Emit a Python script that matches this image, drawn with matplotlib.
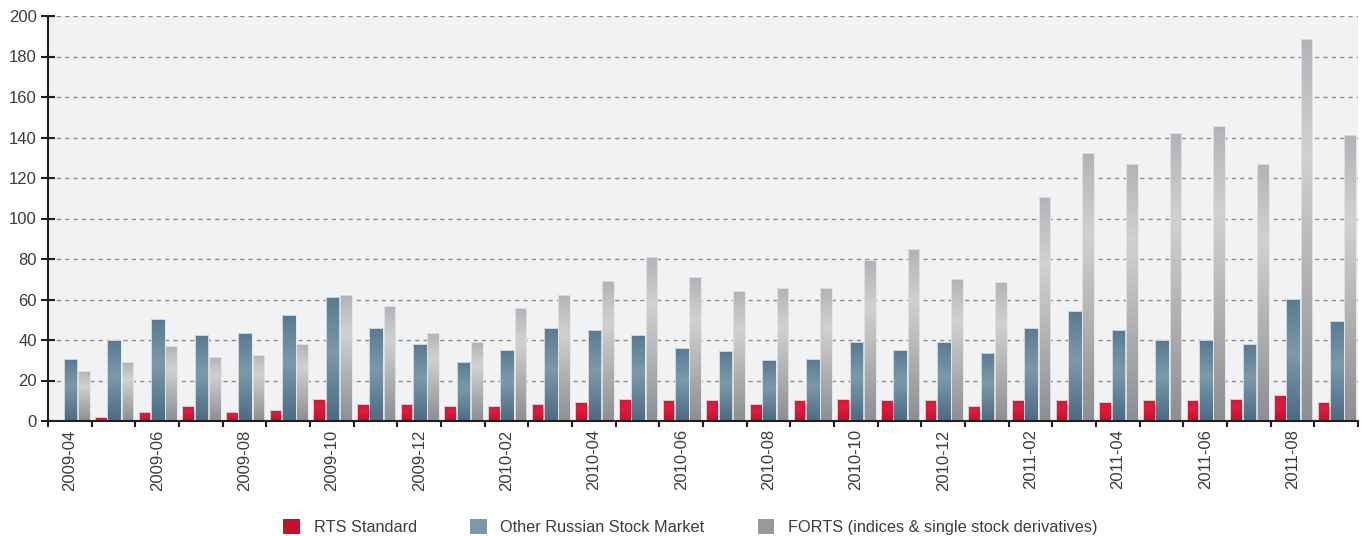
#!/usr/bin/env python3
"""RTS / Other Russian stock market / FORTS monthly volumes, 2009-04 .. 2011-09."""

import matplotlib

matplotlib.use("Agg")
import matplotlib.pyplot as plt
import numpy as np
from matplotlib.colors import LinearSegmentedColormap
from matplotlib.patches import Patch

months = [
    "2009-04", "2009-05", "2009-06", "2009-07", "2009-08", "2009-09",
    "2009-10", "2009-11", "2009-12", "2010-01", "2010-02", "2010-03",
    "2010-04", "2010-05", "2010-06", "2010-07", "2010-08", "2010-09",
    "2010-10", "2010-11", "2010-12", "2011-01", "2011-02", "2011-03",
    "2011-04", "2011-05", "2011-06", "2011-07", "2011-08", "2011-09",
]

rts_standard = [
    0.7, 2.0, 4.6, 7.4, 4.6, 5.6, 11.0, 8.2, 8.2, 7.4,
    7.4, 8.2, 9.2, 11.0, 10.2, 10.2, 8.2, 10.2, 11.0, 10.2,
    10.2, 7.4, 10.2, 10.2, 9.2, 10.2, 10.2, 11.0, 12.8, 9.2,
]
other_russian = [
    30.8, 39.9, 50.6, 42.5, 43.5, 52.3, 61.2, 46.1, 38.0, 29.0,
    35.3, 46.1, 45.1, 42.5, 36.2, 34.4, 30.0, 30.8, 38.9, 35.3,
    38.9, 33.7, 46.1, 54.2, 45.1, 39.9, 39.9, 38.0, 60.4, 49.6,
]
forts = [
    24.5, 29.0, 37.0, 31.8, 32.6, 38.0, 62.2, 57.0, 43.5, 38.9,
    56.0, 62.2, 69.3, 81.2, 71.1, 64.0, 65.9, 65.9, 79.4, 84.8,
    70.3, 68.5, 110.6, 132.2, 127.0, 142.1, 145.7, 127.0, 188.8, 141.3,
]

series_labels = ["RTS Standard", "Other Russian Stock Market",
                 "FORTS (indices & single stock derivatives)"]

# градиенты столбиков: низ -> середина -> верх
GRADIENTS = [
    [(0.0, "#c50f2d"), (0.6, "#e21a3b"), (1.0, "#d3173a")],
    [(0.0, "#4b6b84"), (0.55, "#7c99a9"), (1.0, "#587a91")],
    [(0.0, "#8d8e91"), (0.7, "#d1d1d3"), (1.0, "#b2b3b6")],
]
LEGEND_COLORS = ["#c8102e", "#7c99a9", "#98999c"]
OFFSETS = [-0.29, 0.015, 0.32]
WIDTHS = [0.27, 0.32, 0.27]

plt.rcParams["font.family"] = ["Liberation Sans", "DejaVu Sans"]
TEXT = "#3c3c3c"
AXIS = "#231f20"

fig = plt.figure(figsize=(13.62, 5.36), dpi=100)
ax = fig.add_axes([48 / 1362, 115 / 536, 1310 / 1362, 405 / 536])
ax.set_facecolor("#f1f2f4")

x = np.arange(len(months))
grad = np.linspace(0, 1, 256).reshape(-1, 1)

for values, off, w, stops in zip((rts_standard, other_russian, forts), OFFSETS, WIDTHS, GRADIENTS):
    cmap = LinearSegmentedColormap.from_list("g", stops)
    bars = ax.bar(x + off, values, width=w, color="none", edgecolor="#e4e5e7",
                  linewidth=0.6, zorder=3)
    for b in bars:
        bx, by = b.get_x(), b.get_y()
        bw, bh = b.get_width(), b.get_height()
        im = ax.imshow(grad, cmap=cmap, origin="lower", aspect="auto",
                       extent=(bx, bx + bw, by, by + bh), zorder=2.5)
        im.set_clip_path(b)

ax.set_xlim(-0.5, len(months) - 0.5)
ax.set_ylim(0, 200)
ax.set_yticks(np.arange(0, 201, 20))

# деления на границах месяцев, подписи через месяц
ax.set_xticks(np.arange(-0.5, len(months), 1.0))
ax.set_xticklabels([])
ax.set_xticks(x[::2], minor=True)
ax.set_xticklabels(months[::2], minor=True, rotation=90, fontsize=12, color=TEXT)
ax.tick_params(axis="x", which="major", direction="out", length=4, width=1.5, color=AXIS)
ax.tick_params(axis="x", which="minor", length=0, pad=6)
ax.tick_params(axis="y", direction="inout", length=10, width=1.5, color=AXIS,
               labelsize=12, labelcolor=TEXT, pad=3)

ax.grid(axis="y", color="#8c8c8c", linestyle=(0, (3, 3)), linewidth=1.0, zorder=1)
ax.set_axisbelow(True)
for side in ("top", "right"):
    ax.spines[side].set_visible(False)
for side in ("left", "bottom"):
    ax.spines[side].set_color(AXIS)
    ax.spines[side].set_linewidth(1.5)
    ax.spines[side].set_zorder(4)

handles = [Patch(facecolor=c, edgecolor="none") for c in LEGEND_COLORS]
fig.legend(handles, series_labels, loc="lower center", bbox_to_anchor=(0.507, -0.026),
           ncol=3, frameon=False, fontsize=11.7, labelcolor=TEXT,
           handlelength=1.0, handleheight=1.0, handletextpad=0.85, columnspacing=3.3)

fig.savefig("out.png", dpi=100)
